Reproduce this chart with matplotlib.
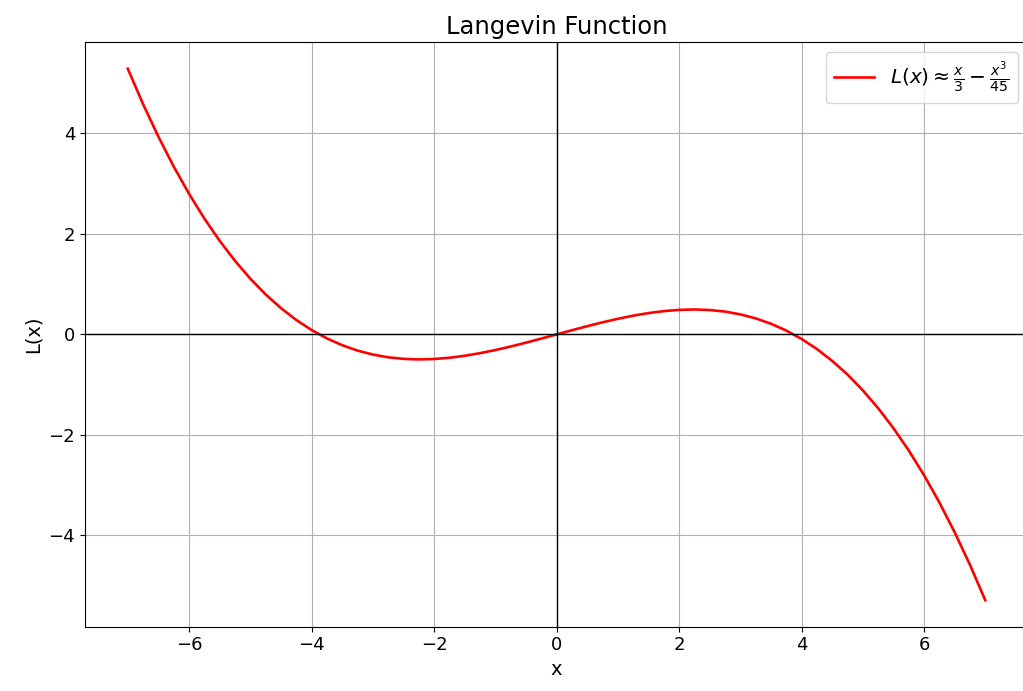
import matplotlib.pyplot as plt

# values, step 0.25
x_vals = [-7.0, -6.75, -6.5, -6.25, -6.0, -5.75, -5.5, -5.25, -5.0, -4.75, -4.5, -4.25,
          -4.0, -3.75, -3.5, -3.25, -3.0, -2.75, -2.5, -2.25, -2.0, -1.75, -1.5, -1.25,
          -1.0, -0.75, -0.5, -0.25, 0.0,
          0.25, 0.5, 0.75, 1.0, 1.25, 1.5, 1.75, 2.0, 2.25, 2.5, 2.75, 3.0, 3.25,
          3.5, 3.75, 4.0, 4.25, 4.5, 4.75, 5.0, 5.25, 5.5, 5.75, 6.0, 6.25, 6.5, 6.75, 7.0]
y_vals = [5.289, 4.584, 3.936, 3.342, 2.800, 2.308, 1.864, 1.466, 1.111, 0.798, 0.525, 0.289,
          0.089, -0.078, -0.214, -0.321, -0.400, -0.455, -0.486, -0.497, -0.489, -0.464, -0.425, -0.373,
          -0.311, -0.241, -0.164, -0.083, 0.0,
          0.083, 0.164, 0.241, 0.311, 0.373, 0.425, 0.464, 0.489, 0.497, 0.486, 0.455, 0.400, 0.321,
          0.214, 0.078, -0.089, -0.289, -0.525, -0.798, -1.111, -1.466, -1.864, -2.308, -2.800, -3.342,
          -3.936, -4.584, -5.289]

fig = plt.figure(figsize=(10.23, 6.91), dpi=100)
# right edge runs slightly past the canvas, as in the reference
ax = fig.add_axes([0.083, 0.093, 0.922, 0.846])

ax.plot(x_vals, y_vals, color='red', linewidth=1.9,
        label=r'$L(x) \approx \frac{x}{3} - \frac{x^3}{45}$')
ax.axhline(0, color='black', linewidth=1)
ax.axvline(0, color='black', linewidth=1)
ax.set_title("Langevin Function", fontsize=17.5)
ax.set_xlabel("x", fontsize=14)
ax.set_ylabel("L(x)", fontsize=14)
ax.tick_params(labelsize=13)
ax.grid(True)
ax.legend(loc='upper right', fontsize=14.5)

fig.savefig("out.png", dpi=100)
